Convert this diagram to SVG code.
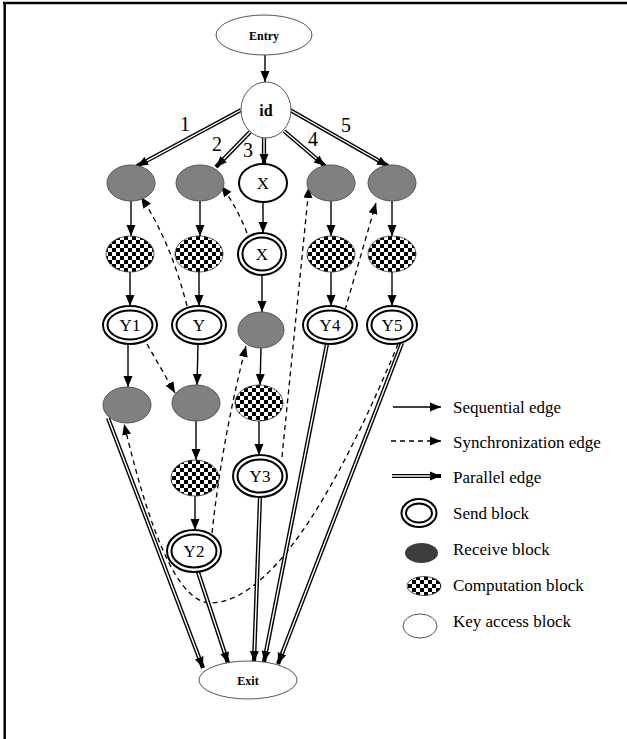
<svg xmlns="http://www.w3.org/2000/svg" width="627" height="739" viewBox="0 0 627 739">
<defs>
<pattern id="chk" patternUnits="userSpaceOnUse" width="8" height="8">
<rect width="8" height="8" fill="#fff"/>
<rect width="4" height="4" fill="#000"/>
<rect x="4" y="4" width="4" height="4" fill="#000"/>
</pattern>
<marker id="ah" markerUnits="userSpaceOnUse" markerWidth="12" markerHeight="10" refX="11" refY="5" orient="auto">
<path d="M0,0.5 L11,5 L0,9.5 z" fill="#000"/>
</marker>
</defs>
<style>
.t{font-family:"Liberation Serif","Times New Roman",serif;fill:#000}
.nl{font-size:17px;text-anchor:middle}
.bl{font-size:12px;font-weight:bold;text-anchor:middle}
.num{font-size:20px;text-anchor:middle}
.lg{font-size:17px}
.recv{fill:#808080;stroke:#555;stroke-width:1}
.comp{fill:url(#chk);stroke:#333;stroke-width:0.8}
.sendo{fill:#fff;stroke:#000;stroke-width:2}
.sendi{fill:none;stroke:#000;stroke-width:2}
.key{fill:#fff;stroke:#555;stroke-width:1}
.seq{fill:none;stroke:#000;stroke-width:1.4;marker-end:url(#ah)}
.syn{fill:none;stroke:#000;stroke-width:1.3;stroke-dasharray:5,4;marker-end:url(#ah)}
.parb{fill:none;stroke:#000;stroke-width:4.2;marker-end:url(#ah)}
.parw{fill:none;stroke:#fff;stroke-width:1.4}
</style>
<rect width="627" height="739" fill="#fff"/>
<line x1="3" y1="3" x2="627" y2="3" stroke="#000" stroke-width="2.5"/>
<line x1="4.7" y1="2" x2="4.7" y2="739" stroke="#000" stroke-width="2.5"/>

<g id="connectors">
<!-- sequential -->
<path class="seq" d="M265,55 L265,82"/>
<path class="seq" d="M131,201 L131,236"/>
<path class="seq" d="M130,272 L130,306"/>
<path class="seq" d="M200,201 L200,236"/>
<path class="seq" d="M199,272 L199,306"/>
<path class="seq" d="M263,202 L263,233"/>
<path class="seq" d="M262,275 L262,312"/>
<path class="seq" d="M261,348 L260,385"/>
<path class="seq" d="M259,421 L259,455"/>
<path class="seq" d="M331,201 L331,236"/>
<path class="seq" d="M331,272 L331,306"/>
<path class="seq" d="M392,201 L392,236"/>
<path class="seq" d="M392,272 L392,306"/>
<path class="seq" d="M128,344 L128,387"/>
<path class="seq" d="M198,344 L197,385"/>
<path class="seq" d="M196,421 L196,460"/>
<path class="seq" d="M195,496 L195,530"/>
<!-- synchronization -->
<path class="syn" d="M187,306 Q170,240 141,197"/>
<path class="syn" d="M247,233 Q236,205 221,186"/>
<path class="syn" d="M147,344 L175,393"/>
<path class="syn" d="M212,533 Q222,440 246,346"/>
<path class="syn" d="M282,457 L309,187"/>
<path class="syn" d="M345,310 L376,203"/>
<path class="syn" d="M398,344 C350,460 280,600 212,603 C168,605 138,480 124,424"/>
<!-- parallel -->
<path class="parb" d="M241,110 L137,166"/><path class="parw" d="M241,110 L146.7,160.8"/>
<path class="parb" d="M250,132 L216,167"/><path class="parw" d="M250,132 L223.7,159.1"/>
<path class="parb" d="M264,138 L264,165"/><path class="parw" d="M264,138 L264,154"/>
<path class="parb" d="M284,131 L325,166"/><path class="parw" d="M284,131 L316.6,158.8"/>
<path class="parb" d="M290,110 L388,166"/><path class="parw" d="M290,110 L378.5,160.5"/>
<path class="parb" d="M108,418 L203,668"/><path class="parw" d="M108,418 L199.1,657.7"/>
<path class="parb" d="M198,572 L228,663"/><path class="parw" d="M198,572 L224.6,652.6"/>
<path class="parb" d="M260,497 L254,662"/><path class="parw" d="M260,497 L254.4,651"/>
<path class="parb" d="M327,344 L264,662"/><path class="parw" d="M327,344 L266.1,651.2"/>
<path class="parb" d="M402,343 L278,664"/><path class="parw" d="M402,343 L282,653.7"/>
</g>

<g id="entry"><ellipse class="key" cx="264" cy="35" rx="48" ry="20"/><text class="t bl" x="264" y="40">Entry</text></g>
<g id="id"><ellipse class="key" cx="266" cy="110" rx="25" ry="28"/><text class="t" x="266" y="116" font-size="16" font-weight="bold" text-anchor="middle">id</text></g>

<g id="labels">
<text class="t num" x="185" y="131">1</text>
<text class="t num" x="217" y="151">2</text>
<text class="t num" x="248" y="157">3</text>
<text class="t num" x="313" y="146">4</text>
<text class="t num" x="346" y="132">5</text>
</g>

<g id="recv1"><ellipse class="recv" cx="131" cy="183" rx="24" ry="18"/></g>
<g id="recv2"><ellipse class="recv" cx="200" cy="183" rx="24" ry="18"/></g>
<g id="keyX"><ellipse cx="263" cy="183" rx="24" ry="19" fill="#fff" stroke="#000" stroke-width="2"/><text class="t nl" x="263" y="189">X</text></g>
<g id="recv4"><ellipse class="recv" cx="331" cy="183" rx="24" ry="18"/></g>
<g id="recv5"><ellipse class="recv" cx="392" cy="183" rx="24" ry="18"/></g>

<g id="comp1"><ellipse class="comp" cx="130" cy="254" rx="24" ry="18"/></g>
<g id="comp2"><ellipse class="comp" cx="199" cy="254" rx="24" ry="18"/></g>
<g id="sendX"><ellipse class="sendo" cx="262" cy="254" rx="24" ry="21"/><ellipse class="sendi" cx="262" cy="254" rx="19.5" ry="16.5"/><text class="t nl" x="262" y="260">X</text></g>
<g id="comp4"><ellipse class="comp" cx="331" cy="254" rx="24" ry="18"/></g>
<g id="comp5"><ellipse class="comp" cx="392" cy="254" rx="24" ry="18"/></g>

<g id="sendY1"><ellipse class="sendo" cx="130" cy="325" rx="27" ry="19"/><ellipse class="sendi" cx="130" cy="325" rx="22.5" ry="14.5"/><text class="t nl" x="130" y="331">Y1</text></g>
<g id="sendY"><ellipse class="sendo" cx="199" cy="325" rx="27" ry="19"/><ellipse class="sendi" cx="199" cy="325" rx="22.5" ry="14.5"/><text class="t nl" x="199" y="331">Y</text></g>
<g id="recv3"><ellipse class="recv" cx="261" cy="330" rx="23" ry="18"/></g>
<g id="sendY4"><ellipse class="sendo" cx="330" cy="325" rx="27" ry="19"/><ellipse class="sendi" cx="330" cy="325" rx="22.5" ry="14.5"/><text class="t nl" x="330" y="331">Y4</text></g>
<g id="sendY5"><ellipse class="sendo" cx="392" cy="325" rx="25" ry="19"/><ellipse class="sendi" cx="392" cy="325" rx="20.5" ry="14.5"/><text class="t nl" x="392" y="331">Y5</text></g>

<g id="recv6"><ellipse class="recv" cx="127" cy="405" rx="24" ry="18"/></g>
<g id="recv7"><ellipse class="recv" cx="196" cy="403" rx="24" ry="18"/></g>
<g id="comp3"><ellipse class="comp" cx="259" cy="403" rx="24" ry="18"/></g>

<g id="comp6"><ellipse class="comp" cx="195" cy="478" rx="24" ry="18"/></g>
<g id="sendY3"><ellipse class="sendo" cx="260" cy="476" rx="27" ry="21"/><ellipse class="sendi" cx="260" cy="476" rx="22.5" ry="16.5"/><text class="t nl" x="260" y="482">Y3</text></g>
<g id="sendY2"><ellipse class="sendo" cx="194" cy="551" rx="27" ry="21"/><ellipse class="sendi" cx="194" cy="551" rx="22.5" ry="16.5"/><text class="t nl" x="194" y="557">Y2</text></g>

<g id="exit"><ellipse class="key" cx="248" cy="680" rx="49" ry="19"/><text class="t bl" x="248" y="685">Exit</text></g>

<g id="legend">
<path class="seq" d="M393,407 L441,407"/>
<text class="t lg" x="453" y="413">Sequential edge</text>
<path class="syn" d="M391,441 L441,441" stroke-dasharray="4,3"/>
<text class="t lg" x="453" y="448">Synchronization edge</text>
<path class="parb" d="M392,476 L441,476"/><path class="parw" d="M392,476 L430,476"/>
<text class="t lg" x="453" y="483">Parallel edge</text>
<ellipse class="sendo" cx="419" cy="513" rx="17.5" ry="14"/><ellipse class="sendi" cx="419" cy="513" rx="13" ry="9.5"/>
<text class="t lg" x="453" y="519">Send block</text>
<ellipse cx="421.5" cy="553" rx="16.5" ry="10" fill="#3c3c3c"/>
<text class="t lg" x="453" y="555">Receive block</text>
<ellipse class="comp" cx="424" cy="586" rx="17" ry="9.5"/>
<text class="t lg" x="453" y="591">Computation block</text>
<ellipse class="key" cx="420" cy="626" rx="17" ry="12"/>
<text class="t lg" x="453" y="627">Key access block</text>
</g>
</svg>
